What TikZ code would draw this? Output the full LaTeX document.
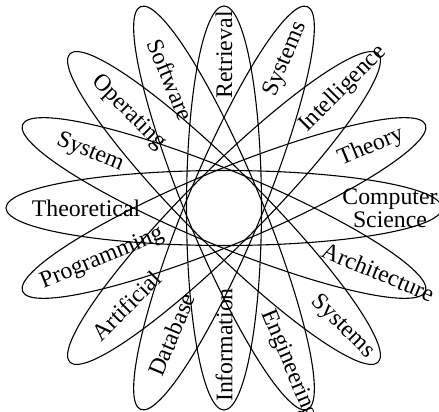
\documentclass[tikz,border=0pt]{standalone}
\usepackage{fontspec}
\setmainfont{Liberation Serif}
\usetikzlibrary{shapes.geometric}

\begin{document}
\begin{tikzpicture}[x=0.5pt,y=0.5pt,
  petal/.style={draw,ellipse,inner sep=0pt,minimum width=218pt,minimum height=37.5pt,line width=0.55pt},
  word/.style={inner sep=0pt,align=center,font=\fontsize{11.9}{11.5}\selectfont}]

\useasboundingbox(-224,-204) rectangle (215,208);

% the eight petals, all round the same centre
\node[petal,minimum width=202pt,rotate=90] (ir) at (0,0) {};
\node[petal,rotate=-67.5] (se) at (0,0) {};
\node[petal,rotate=-45] (os) at (0,0) {};
\node[petal,rotate=-22.5] (sa) at (0,0) {};
\node[petal,rotate=0] (tcs) at (0,0) {};
\node[petal,rotate=22.5] (pt) at (0,0) {};
\node[petal,rotate=45] (ai) at (0,0) {};
\node[petal,rotate=67.5] (ds) at (0,0) {};

% words at both ends
\node[word,rotate=90] (information) at (270:137) {Information};
\node[word,rotate=90] (retrieval) at (90:153) {Retrieval};
\node[word,rotate=-67.5] (software) at (112.5:139) {Software};
\node[word,rotate=-67.5] (engineering) at (-67.5:170) {Engineering};
\node[word,rotate=-45] (operating) at (135:135) {Operating};
\node[word,rotate=-45] (systemsa) at (-45:168) {Systems};
\node[word,rotate=-22.5] (system) at (157.5:145) {System};
\node[word,rotate=-22.5] (architecture) at (-22.5:167) {Architecture};
\node[word] (theoretical) at (180:138) {Theoretical};
\node[word] (cs) at (0:166) {Computer\\Science};
\node[word,rotate=22.5] (programming) at (202.5:132) {Programming};
\node[word,rotate=22.5] (theory) at (22.5:159) {Theory};
\node[word,rotate=45] (artificial) at (225:138) {Artificial};
\node[word,rotate=45] (intelligence) at (45:168) {Intelligence};
\node[word,rotate=67.5] (database) at (247.5:137) {Database};
\node[word,rotate=67.5] (systemsb) at (67.5:161) {Systems};

\end{tikzpicture}
\end{document}
